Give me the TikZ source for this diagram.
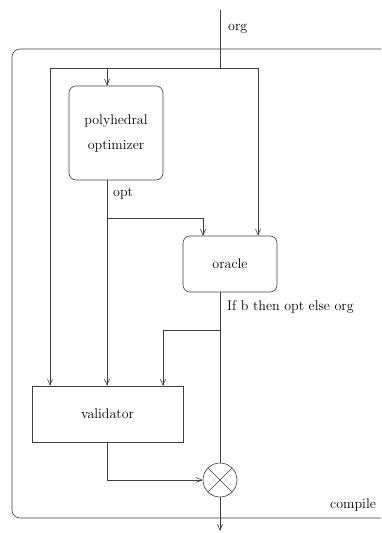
\documentclass[tikz,border=0pt]{standalone}
\usetikzlibrary{arrows.meta}
\begin{document}
\begin{tikzpicture}[x=1pt,y=-1pt,
  line/.style={draw=black!75,line width=0.6pt},
  arr/.style={line,-{Straight Barb[length=6pt,width=5pt]}},
  lbl/.style={font=\fontsize{14}{17}\selectfont,anchor=base west,inner sep=0pt},
  rbox/.style={line,rounded corners=7pt,font=\fontsize{14}{17}\selectfont,align=center,inner sep=0pt},
  sbox/.style={line,font=\fontsize{14}{17}\selectfont,inner sep=0pt},
  mulnode/.style={line,circle,minimum size=34pt,inner sep=0pt,
    path picture={\draw[black!75,line width=0.6pt] (path picture bounding box.north west) -- (path picture bounding box.south east)
      (path picture bounding box.north east) -- (path picture bounding box.south west);}}]
\useasboundingbox (0,0) rectangle (381,533);
\clip (0,0) rectangle (381,533);
\fill[white] (0,0) rectangle (381,533);
% outer compile box
\draw[line,rounded corners=8pt] (12,49) rectangle (400,518);
\node[lbl] (compile) at (330,508) {compile};
% nodes
\node[rbox,minimum width=94pt,minimum height=94pt] (poly) at (116,133) {polyhedral\\[8pt]optimizer};
\node[rbox,minimum width=94pt,minimum height=56pt] (oracle) at (230,264) {oracle};
\node[sbox,minimum width=151pt,minimum height=56pt] (val) at (107.5,414) {validator};
\node[mulnode] (mul) at (220,480) {};
% coordinates
\coordinate (in) at (220,10);
\coordinate (split) at (220,68);
\coordinate (dl) at (50,68);
\coordinate (dp) at (107,68);
\coordinate (dr) at (258,68);
\coordinate (b1) at (107,218);
\coordinate (oin) at (203,236);
\coordinate (b2) at (220,330);
\coordinate (vin) at (163,386);
\coordinate (vc) at (107,480);
\coordinate (out) at (220,531);
% labels
\node[lbl] (orglbl) at (228,30) {org};
\node[lbl] (optlbl) at (113,196) {opt};
\node[lbl] (iflbl) at (227,310) {If b then opt else org};
% connectors
\draw[line] (in) -- (split);
\draw[line] (dl) -- (dr);
\draw[arr] (dp) -- (dp |- poly.north);
\draw[arr] (dl) -- (dl |- val.north);
\draw[arr] (dr) -- (dr |- oracle.north);
\draw[arr] (dp |- poly.south) -- (dp |- val.north);
\draw[arr] (b1) -| (oin);
\draw[line] (mul |- oracle.south) -- (mul.north);
\draw[arr] (b2) -| (vin);
\draw[arr] (dp |- val.south) -- (vc) -- (mul.west);
\draw[arr] (mul.south) -- (out);
\end{tikzpicture}
\end{document}
